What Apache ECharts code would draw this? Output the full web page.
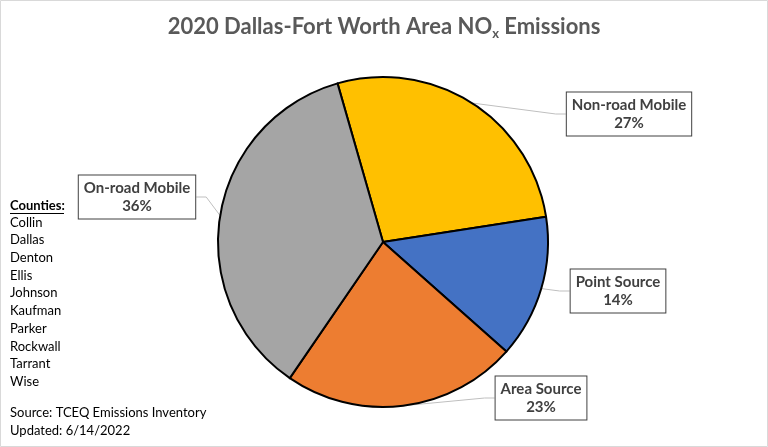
<!DOCTYPE html>
<html>
<head>
<meta charset="utf-8">
<script src="https://cdn.jsdelivr.net/npm/echarts@6/dist/echarts.min.js"></script>
<style>
  html, body { margin: 0; padding: 0; background: #fff; }
  #chart { width: 768px; height: 447px; }
</style>
</head>
<body>
<div id="chart"></div>
<script>
// sources and shares (percent)
const sources = ['Non-road Mobile', 'Point Source', 'Area Source', 'On-road Mobile'];
const shares = [27, 14, 23, 36];
const colors = ['#FFC000', '#4472C4', '#ED7D31', '#A5A5A5'];
const counties = ['Collin', 'Dallas', 'Denton', 'Ellis', 'Johnson', 'Kaufman', 'Parker', 'Rockwall', 'Tarrant', 'Wise'];

// where each label box sits (box centres)
const labelSpots = [[629, 114], [618, 291], [541, 398], [137, 197]];

const font = 'Lato, "Open Sans", sans-serif';
const chart = echarts.init(document.getElementById('chart'));

// left-hand note block
const notes = [];
notes.push({
  type: 'text', left: 10, top: 199,
  style: { text: 'Counties:', font: 'bold 13px ' + font, fill: '#000' }
});
notes.push({
  type: 'line', shape: { x1: 10, y1: 213.5, x2: 64, y2: 213.5 },
  style: { stroke: '#000', lineWidth: 1 }
});
counties.forEach((c, i) => {
  notes.push({
    type: 'text', left: 10, top: 216 + i * 17.7,
    style: { text: c, font: '13px ' + font, fill: '#000' }
  });
});
notes.push({
  type: 'text', left: 10, top: 404,
  style: { text: 'Source: TCEQ Emissions Inventory\nUpdated: 6/14/2022', font: '13px ' + font, fill: '#000', lineHeight: 18 }
});
notes.push({
  type: 'rect', shape: { x: 0.5, y: 0.5, width: 767, height: 446 },
  style: { fill: 'none', stroke: '#d9d9d9', lineWidth: 1 }, silent: true
});

chart.setOption({
  animation: false,
  title: {
    text: '2020 Dallas-Fort Worth Area NO{sub|x} Emissions',
    left: 'center',
    top: 8,
    textStyle: {
      fontFamily: font, fontSize: 22, fontWeight: 'bold', color: '#595959',
      rich: {
        sub: { fontFamily: font, fontSize: 13, fontWeight: 'bold', color: '#595959', padding: [14, 0, 0, 0] }
      }
    }
  },
  graphic: notes,
  series: [{
    type: 'pie',
    center: [383, 242],
    radius: 165,
    startAngle: 106,
    clockwise: true,
    itemStyle: { borderColor: '#000', borderWidth: 2 },
    label: {
      show: true,
      formatter: '{b}\n{d}%',
      fontFamily: font,
      fontSize: 15,
      fontWeight: 'bold',
      color: '#404040',
      lineHeight: 18,
      align: 'center',
      backgroundColor: '#fff',
      borderColor: '#404040',
      borderWidth: 1,
      padding: [4, 5, 3, 5]
    },
    labelLine: {
      show: true,
      length: 10,
      length2: 10,
      lineStyle: { color: '#bfbfbf', width: 1 }
    },
    labelLayout: function (p) {
      const s = labelSpots[p.dataIndex];
      return { x: s[0], y: s[1], align: 'center', verticalAlign: 'middle' };
    },
    data: sources.map((name, i) => ({
      name: name, value: shares[i], itemStyle: { color: colors[i] }
    }))
  }]
});
</script>
</body>
</html>
